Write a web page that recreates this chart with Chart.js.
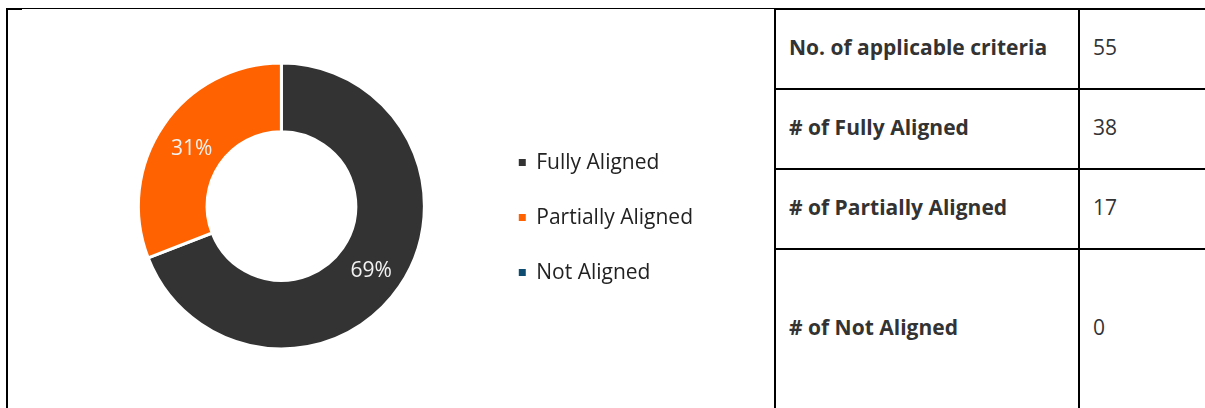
<!DOCTYPE html>
<html>
<head>
<meta charset="utf-8">
<script src="https://cdn.jsdelivr.net/npm/chart.js@4"></script>
<style>
  body { margin: 0; background: #fff; font-family: "Open Sans", sans-serif; overflow: hidden; }
  #frame { position: absolute; left: 6px; top: 8px; width: 1199px; height: 410px; border-left: 2px solid #000; border-top: 1px solid #000; box-sizing: border-box; }
  #corner { position: absolute; left: 6px; top: 8px; width: 16px; height: 2px; background: #000; }
  #chartBox { position: absolute; left: 8px; top: 10px; width: 766px; height: 398px; }
  #stats { position: absolute; left: 774px; top: 8px; width: 520px; border-collapse: collapse; table-layout: fixed; color: #333; font-size: 21px; }
  #stats td { border: 2px solid #000; padding: 0 0 4px 13px; vertical-align: middle; box-sizing: border-box; }
  #stats td.lbl { font-weight: bold; }
  #stats td.val { border-right: none; }
</style>
</head>
<body>
<div id="frame"></div>
<div id="corner"></div>
<div id="chartBox"><canvas id="donut"></canvas></div>
<table id="stats"><colgroup><col style="width:304px"><col style="width:216px"></colgroup><tbody id="statsBody"></tbody></table>

<script>
var categories = ['Fully Aligned', 'Partially Aligned', 'Not Aligned'];
var counts = [38, 17, 0];
var colors = ['#333333', '#ff6200', '#0e4d71'];

var tableLabels = ['No. of applicable criteria', '# of Fully Aligned', '# of Partially Aligned', '# of Not Aligned'];
var tableValues = [55, 38, 17, 0];
var rowHeights = [80, 80, 80, 160];

// build the stats table on the right
var rows = '';
tableLabels.forEach(function(lbl, i){
    rows += '<tr style="height:' + rowHeights[i] + 'px"><td class="lbl">' + lbl + '</td><td class="val">' + tableValues[i] + '</td></tr>';
});
document.getElementById('statsBody').innerHTML = rows;

// percentage labels inside the slices
var pctLabels = {
    id: 'pctLabels',
    afterDatasetsDraw: function(chart){
        var ctx = chart.ctx;
        var data = chart.data.datasets[0].data;
        var total = data.reduce(function(a, b){ return a + b; }, 0);
        ctx.save();
        ctx.font = '21px "Open Sans"';
        ctx.fillStyle = '#f2f2f2';
        ctx.textAlign = 'center';
        ctx.textBaseline = 'middle';
        chart.getDatasetMeta(0).data.forEach(function(arc, i){
            if (!data[i]) return;
            var p = arc.tooltipPosition();
            ctx.fillText(Math.round(data[i] / total * 100) + '%', p.x, p.y + 4);
        });
        ctx.restore();
    }
};

Chart.defaults.font.family = '"Open Sans"';
var baseLabels = Chart.overrides.doughnut.plugins.legend.labels.generateLabels;

new Chart(document.getElementById('donut'), {
    type: 'doughnut',
    data: {
        labels: categories,
        datasets: [{
            data: counts,
            backgroundColor: colors,
            borderColor: '#fff',
            borderWidth: 3,
            radius: 143,
            cutout: '52%'
        }]
    },
    options: {
        responsive: true,
        maintainAspectRatio: false,
        animation: false,
        layout: { padding: { left: 70, right: 71, top: 0, bottom: 6 } },
        plugins: {
            tooltip: { enabled: false },
            legend: {
                position: 'right',
                title: { display: true, text: '', padding: 2, font: { size: 16 } },
                labels: {
                    boxWidth: 7,
                    boxHeight: 7,
                    padding: 34,
                    color: '#222',
                    font: { size: 21 },
                    generateLabels: function(chart){
                        return baseLabels(chart).map(function(item){
                            item.lineWidth = 0;
                            return item;
                        });
                    }
                }
            }
        }
    },
    plugins: [pctLabels]
});
</script>
</body>
</html>
